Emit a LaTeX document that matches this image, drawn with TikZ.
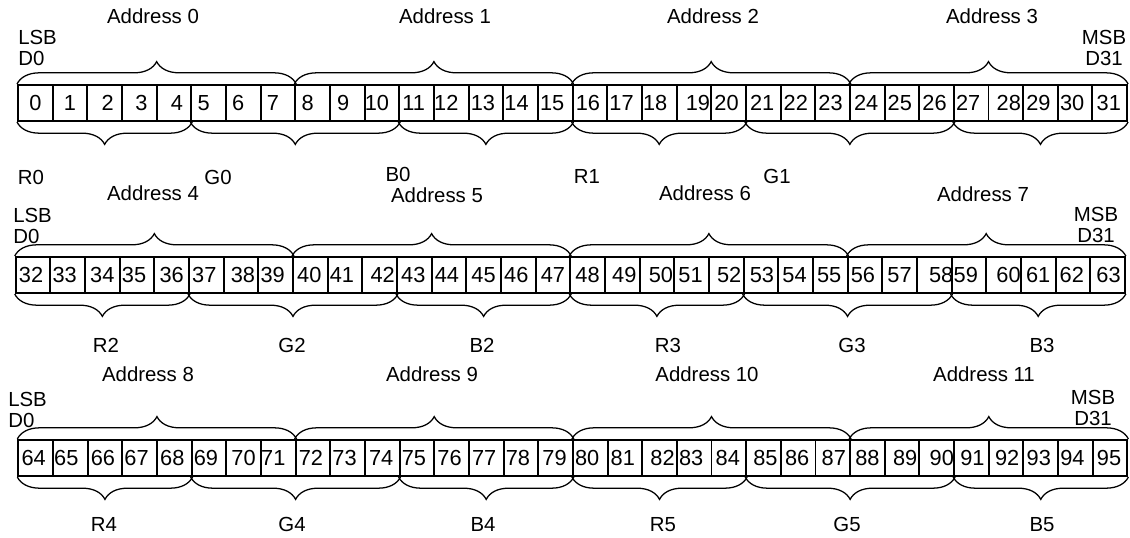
\documentclass[tikz,border=0pt]{standalone}
\usepackage{fontspec}
\setmainfont{Liberation Sans}
\usepackage{tikz}
\usetikzlibrary{decorations.pathreplacing}

\tikzset{
  bitcell/.style={draw, line width=1.4pt, minimum width=0.8665cm, minimum height=0.9cm, inner sep=0pt},
  bitnum/.style={font=\fontsize{15.5}{18}\selectfont, inner sep=0pt},
  lbl/.style={font=\fontsize{14.5}{15}\selectfont, inner sep=0pt},
  bracetop/.style={decorate, decoration={brace, amplitude=0.56cm}, line width=0.9pt},
  bracebot/.style={decorate, decoration={brace, amplitude=0.56cm, mirror}, line width=0.9pt}
}

\begin{document}
\begin{tikzpicture}[x=0.025cm, y=-0.025cm]
  \path[fill=white] (0,0) rectangle (1130,538);
  % ------- three rows of 32 bit cells -------
  \foreach \r/\top/\xo in {0/85/18,1/257/15.7,2/440/18.3} {
    \foreach \i in {0,...,31} {
      \pgfmathtruncatemacro{\n}{32*\r+\i}
      \node[bitcell] (c\n) at ({\xo+34.66*(\i+0.5)},{\top+18}) {};
    }
  }
  % ------- bit numbers (shifted as in the original) -------
  \foreach \n/\dx in {0/0,1/0,2/3,3/2,4/3,5/-5,6/-5,7/-5,8/-5,9/-4,10/-5,11/-3,12/-5,13/-3,14/-4,15/-3,
      16/-2,17/-3,18/-4,19/4,20/-2,21/-1,22/-2,23/-2,24/-1,25/-2,26/-2,27/-3,28/3,29/-2,30/-3,31/-1,
      32/-2,33/-3,34/0,35/-3,36/0,37/-2,38/2,39/-3,40/-1,41/-3,42/3,43/-1,44/-2,45/0,46/-2,47/0,
      48/0,49/2,50/4,51/-1,52/3,53/1,54/-1,55/-1,56/-2,57/0,58/7,59/-3,60/5,61/0,62/-1,63/1,
      64/-2,65/-4,66/-2,67/-3,68/-2,69/-3,70/0,71/-5,72/-2,73/-3,74/-1,75/-3,76/-2,77/-2,78/-3,79/-1,
      80/-3,81/-2,82/3,83/-3,84/-1,85/2,86/-1,87/1,88/0,89/3,90/5,91/1,92/1,93/-2,94/-3,95/-1} {
    \node[bitnum, xshift=\dx*0.025cm] (d\n) at (c\n) {\n};
  }
  % ------- braces: bytes on top, R/G/B fields below -------
  \foreach \r in {0,1,2} {
    \foreach \a in {0,...,3} {
      \pgfmathtruncatemacro{\s}{32*\r+8*\a}
      \pgfmathtruncatemacro{\e}{\s+7}
      \draw[bracetop] (c\s.north west) -- (c\e.north east);
    }
    \foreach \f/\g in {0/4,5/10,11/15,16/20,21/26,27/31} {
      \pgfmathtruncatemacro{\s}{32*\r+\f}
      \pgfmathtruncatemacro{\e}{32*\r+\g}
      \draw[bracebot] (c\s.south west) -- (c\e.south east);
    }
  }
  % ------- address labels -------
  \foreach \k/\x/\y in {0/153/16,1/445/16,2/713/16,3/992/16,
      4/153/193,5/437/195,6/705/193,7/983/194,
      8/148/374,9/432/374,10/707/374,11/984/374} {
    \node[lbl] (addr\k) at (\x,\y) {Address \k};
  }
  % ------- LSB / MSB ends -------
  \foreach \r/\x/\y in {0/18/48,1/13/226,2/8/410} {
    \node[lbl, anchor=west, align=left] (lsb\r) at (\x,\y) {LSB\\D0};
  }
  \foreach \r/\x/\y in {0/1104/48,1/1096/225,2/1093/408} {
    \node[lbl, align=center] (msb\r) at (\x,\y) {MSB\\D31};
  }
  % ------- colour field labels -------
  \foreach \t/\x/\y in {R0/31/177,G0/218/177,B0/398/174,R1/587/176,G1/777/176,
      R2/106/345,G2/292/345,B2/482/345,R3/668/345,G3/852/345,B3/1042/345,
      R4/104/524,G4/292/524,B4/483/524,R5/663/525,G5/847/524,B5/1042/525} {
    \node[lbl] (\t) at (\x,\y) {\t};
  }
\end{tikzpicture}
\end{document}
